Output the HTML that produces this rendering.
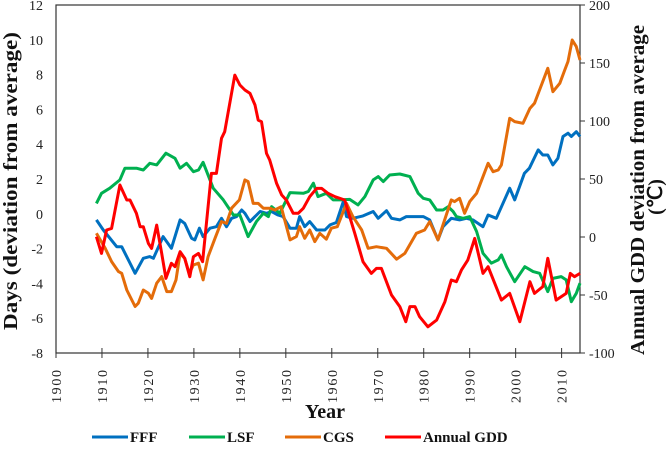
<!DOCTYPE html>
<html><head><meta charset="utf-8"><style>
body{margin:0;background:#fff;}
svg{display:block;}
.tk{font-family:"Liberation Serif",serif;font-size:14px;fill:#222;}
.tt{font-family:"Liberation Serif",serif;font-size:20px;font-weight:bold;fill:#111;}
.lg{font-family:"Liberation Serif",serif;font-size:15px;font-weight:bold;fill:#111;}
</style></head><body>
<svg id="chart" width="666" height="456" xmlns="http://www.w3.org/2000/svg"></svg>
<script>
const xTicks=[1900,1910,1920,1930,1940,1950,1960,1970,1980,1990,2000,2010];
const leftTicks=[12,10,8,6,4,2,0,-2,-4,-6,-8];
const rightTicks=[200,150,100,50,0,-50,-100];
const fffYears=[1908.8,1910.3,1913.2,1914.3,1917.2,1919,1920.4,1921.2,1923.3,1925.1,1927,1928,1929.5,1930.2,1931.2,1932,1933.5,1934.9,1936,1937.1,1938.2,1939.3,1940.4,1941.1,1942.2,1943.3,1944.4,1945.8,1946.9,1948.3,1949.4,1950.9,1952.3,1953,1954.1,1955.2,1956.7,1958.5,1959.6,1961,1962.5,1963.2,1964.6,1966.8,1969,1970.1,1971.9,1973,1974.8,1976.2,1979.9,1981.3,1983.1,1984.2,1986,1987.8,1989.3,1990.7,1992.9,1994,1995.8,1998.7,1999.8,2001.9,2003,2004.9,2005.9,2007,2008.1,2009.2,2010.3,2011.4,2012.1,2013.2,2014];
const fffValues=[-0.35,-0.93,-1.89,-1.89,-3.42,-2.56,-2.46,-2.56,-1.31,-1.98,-0.35,-0.55,-1.41,-1.5,-0.83,-1.31,-0.83,-0.74,-0.26,-0.74,-0.26,-0.16,0.22,0.03,-0.45,-0.16,0.13,0.03,0.13,-0.07,-0.16,-0.83,-0.83,-0.16,-0.74,-0.45,-0.93,-0.93,-0.64,-0.5,0.7,-0.16,-0.26,-0.12,0.13,-0.26,0.18,-0.26,-0.35,-0.16,-0.16,-0.35,-1.5,-0.74,-0.26,-0.35,-0.26,-0.35,-0.74,-0.07,-0.26,1.47,0.8,2.33,2.62,3.67,3.38,3.38,2.81,3.19,4.44,4.63,4.44,4.72,4.44];
const lsfYears=[1908.8,1909.9,1911.7,1913.9,1915,1917.5,1919,1920.4,1921.9,1923.9,1925.9,1927,1928.4,1929.9,1931,1932,1934.2,1936.4,1938.6,1940,1941.8,1943.6,1945.1,1946.2,1946.9,1948.7,1950.9,1953.8,1954.9,1956,1957,1958.8,1960.3,1961.7,1963.9,1965.7,1967.2,1969,1970.1,1971.2,1972.6,1974.8,1977,1978.8,1979.9,1981.3,1982.8,1984.2,1985.3,1986.4,1987.1,1988.6,1990,1991.5,1992.9,1994.7,1996.2,1996.9,1998,1999.8,2002,2003.8,2005.2,2007,2008.1,2009.9,2011,2012.1,2013.2,2014];
const lsfValues=[0.6,1.18,1.47,1.95,2.62,2.62,2.52,2.9,2.81,3.48,3.19,2.62,2.9,2.42,2.52,2.96,1.47,0.8,-0.07,-0.07,-1.31,-0.45,0.03,-0.16,0.41,0.03,1.22,1.18,1.28,1.76,0.99,1.18,0.8,0.8,0.83,0.51,0.99,1.95,2.14,1.85,2.23,2.29,2.14,1.18,0.89,0.8,0.22,0.22,0.41,0.13,-0.16,-0.26,-0.16,-1.02,-2.27,-2.84,-2.65,-2.36,-3.04,-3.9,-3.04,-3.32,-3.42,-4.47,-3.71,-3.61,-3.8,-5.05,-4.57,-3.99];
const cgsYears=[1908.8,1910.7,1912.1,1913.6,1914.3,1915.4,1917.2,1917.9,1919,1920.1,1920.8,1921.9,1923,1924.1,1925.1,1926.1,1927,1928,1929,1929.9,1931,1932,1933.1,1934.6,1936,1937.1,1938.2,1939.9,1941.1,1941.8,1942.9,1944,1945.1,1946.5,1947.6,1949,1950.9,1952.3,1953,1954.1,1955.2,1956.3,1957.4,1958.8,1959.9,1961.2,1963.2,1964.6,1966.5,1967.9,1969.7,1971.9,1974.1,1975.9,1978.4,1980.2,1981.3,1983.1,1986,1986.7,1987.8,1988.9,1990,1991.5,1994,1995.1,1996.2,1996.9,1998.7,1999.8,2001.6,2003.1,2004.1,2005.2,2007,2008.1,2009.6,2010.7,2011.4,2012.3,2013.2,2014];
const cgsValues=[-1.12,-1.98,-2.75,-3.32,-3.42,-4.38,-5.33,-5.14,-4.38,-4.57,-4.86,-3.99,-3.61,-4.47,-4.47,-3.8,-2.27,-2.56,-3.42,-2.94,-2.84,-3.8,-2.46,-1.41,-0.45,-0.55,0.32,0.8,1.95,1.85,0.6,0.6,0.32,0.32,0.22,0.41,-1.5,-1.31,-0.74,-1.41,-0.93,-1.6,-1.12,-1.46,-0.83,-0.74,0.6,-0.16,-0.93,-1.98,-1.89,-1.98,-2.61,-2.27,-1.12,-0.93,-0.45,-1.5,0.8,0.7,0.89,0.03,0.7,1.18,2.9,2.42,2.52,2.81,5.49,5.3,5.2,6.06,6.35,7.12,8.36,7.02,7.5,8.27,8.75,9.99,9.61,8.84];
const gddYears=[1908.8,1909.9,1911,1912.1,1913.9,1915.4,1916.1,1917.5,1918.3,1919,1920.1,1920.8,1921.9,1923,1923.9,1925.1,1925.9,1927,1928,1929.1,1929.9,1931,1931.9,1933.8,1934.9,1936,1936.7,1938.9,1940,1941.1,1942.2,1943.3,1944,1944.7,1945.8,1946.5,1948,1949.1,1950.1,1951.6,1952.7,1953.8,1955.2,1956.7,1957.8,1959.2,1960.7,1962.8,1963.9,1965,1966.8,1968.6,1969.7,1970.8,1973,1974.8,1976.1,1977,1978.1,1979.1,1980.9,1982.8,1984.6,1986,1987.1,1988.2,1989.6,1991.1,1992.9,1994,1996.9,1998.7,2000.9,2003.1,2004.1,2005.9,2007,2008.8,2011,2011.9,2012.8,2014];
const gddValues=[0.3,-14.1,6,7.4,44.8,31.9,31.9,20.4,8.9,8.9,-5.5,-9.8,10.3,-14.1,-35.7,-22.7,-25.6,-12.7,-18.4,-34.2,-17,-14.1,-21.3,54.8,54.8,85.1,90.8,139.6,131,126.7,123.8,113.8,100.8,99.4,72.1,66.4,46.2,36.2,31.9,20.4,20.4,24.7,34.7,41.9,41.9,37.6,34.7,31.9,17.5,3.1,-21.3,-31.4,-27.1,-27.1,-50,-60,-73,-60,-60,-68.7,-77.4,-71.6,-55.8,-37.1,-38.5,-28.5,-19.9,-1.2,-31.4,-25.6,-54.4,-48.6,-73,-38.5,-48.6,-42.8,-18.4,-54.4,-48.6,-31.4,-34.2,-31.4];

const L=56,R=580,T=5,B=353;
const xS=y=>L+(y-1900)*(R-L)/114;
const yL=v=>T+(12-v)*(B-T)/20;
const yR=v=>T+(200-v)*(B-T)/300;
const svg=document.getElementById('chart');
const NS='http://www.w3.org/2000/svg';
function mk(tag,attrs,parent){const e=document.createElementNS(NS,tag);for(const k in attrs)e.setAttribute(k,attrs[k]);(parent||svg).appendChild(e);return e;}

let fr=mk('rect',{x:L,y:T,width:R-L,height:B-T,fill:'none',stroke:'#333','stroke-width':1.2});



leftTicks.forEach(v=>{
  const t=mk('text',{x:43,y:yL(v)+5,'text-anchor':'end',class:'tk'});t.textContent=v;
  
  
});
rightTicks.forEach(v=>{
  mk('line',{x1:R,x2:R+5,y1:yR(v),y2:yR(v),stroke:'#333'});
  const t=mk('text',{x:R+9,y:yR(v)+5,'text-anchor':'start',class:'tk'});t.textContent=v;
  
  
});
xTicks.forEach(v=>{
  const x=xS(v);
  mk('line',{x1:x,x2:x,y1:B-5,y2:B+5,stroke:'#333'});
  const t=mk('text',{x:0,y:0,'text-anchor':'end',class:'tk',textLength:33,transform:`translate(${x+5},${B+17}) rotate(-90)`});t.textContent=v;
  
  
});

const series=[
 {n:'fff-line',ys:fffYears,vs:fffValues,c:'#0070c0',s:yL},
 {n:'lsf-line',ys:lsfYears,vs:lsfValues,c:'#00b050',s:yL},
 {n:'cgs-line',ys:cgsYears,vs:cgsValues,c:'#e46c0a',s:yL},
 {n:'annual-gdd-line',ys:gddYears,vs:gddValues,c:'#ff0000',s:yR}
];
series.forEach(sr=>{
  const d=sr.ys.map((y,i)=>(i?'L':'M')+xS(y).toFixed(1)+','+sr.s(sr.vs[i]).toFixed(1)).join('');
  const p=mk('path',{d:d,fill:'none',stroke:sr.c,'stroke-width':3,'stroke-linejoin':'round'});
  
  
});

let t1=mk('text',{class:'tt','text-anchor':'middle',textLength:298,lengthAdjust:'spacingAndGlyphs',transform:'translate(17,181) rotate(-90)'});t1.textContent='Days (deviation from average)';


let t2=mk('text',{class:'tt','text-anchor':'middle',textLength:330,lengthAdjust:'spacingAndGlyphs',transform:'translate(644,190) rotate(-90)'});t2.textContent='Annual GDD deviation from average';


let t3=mk('text',{class:'tt','text-anchor':'middle',transform:'translate(662,197) rotate(-90)'});t3.textContent='(℃)';


let t4=mk('text',{class:'tt','text-anchor':'middle',x:325,y:418});t4.textContent='Year';



const legend=[['FFF','#0070c0',92],['LSF','#00b050',189],['CGS','#e46c0a',285],['Annual GDD','#ff0000',385]];
legend.forEach(l=>{
  const g=mk('g',{});
  
  
  mk('line',{x1:l[2],x2:l[2]+36,y1:437,y2:437,stroke:l[1],'stroke-width':3},g);
  const t=mk('text',{x:l[2]+38,y:442,class:'lg'},g);t.textContent=l[0];
});
</script>
</body></html>
